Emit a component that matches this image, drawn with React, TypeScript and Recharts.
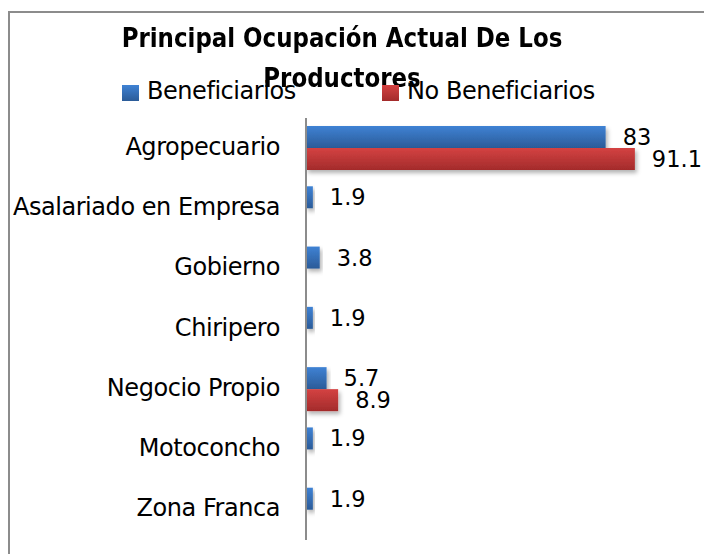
import { BarChart, Bar, XAxis, YAxis, LabelList } from 'recharts'

const categories = [
  'Agropecuario',
  'Asalariado en Empresa',
  'Gobierno',
  'Chiripero',
  'Negocio Propio',
  'Motoconcho',
  'Zona Franca',
]
const beneficiarios = [83, 1.9, 3.8, 1.9, 5.7, 1.9, 1.9]
const noBeneficiarios: (number | null)[] = [91.1, null, null, null, 8.9, null, null]

const data = categories.map((name, i) => ({
  name,
  ben: beneficiarios[i],
  noBen: noBeneficiarios[i],
}))

const FONT = '"DejaVu Sans", sans-serif'
const FRAME = '#8c8c8c'

const shadowBar = (fillId: string) => (props: any) => {
  const { x, y, width, height } = props
  if (!width || width <= 0) return null
  return <rect x={x} y={y} width={width} height={height} fill={`url(#${fillId})`} filter="url(#barShadow)" />
}

// category label, a bit taller and tighter than plain DejaVu
const CatTick = (props: any) => {
  const { x, y, payload } = props
  return (
    <text x={x} y={y} dy={6.5} textAnchor="end" fontSize={24} letterSpacing={-0.45} fill="#000" fontFamily={FONT}>
      {payload.value}
    </text>
  )
}

const fmt = (v: any) => (v == null ? '' : String(v))

export default function App() {
  return (
    <div style={{ position: 'fixed', left: 0, top: 0, width: 704, height: 554, overflow: 'hidden', background: '#fff', fontFamily: FONT }}>
      <div style={{ position: 'absolute', left: 8, top: 11, width: 720, height: 600, borderTop: `2px solid ${FRAME}`, borderLeft: `2px solid ${FRAME}` }} />

      <BarChart
        width={704}
        height={554}
        layout="vertical"
        data={data}
        margin={{ top: 118, right: 37, bottom: 14, left: 0 }}
        barSize={22}
        barGap={0}
        style={{ position: 'absolute', left: 0, top: 0 }}
      >
        <defs>
          <linearGradient id="gBen" x1="0" y1="0" x2="0" y2="1">
            <stop offset="0%" stopColor="#3f82d4" />
            <stop offset="100%" stopColor="#2b5b98" />
          </linearGradient>
          <linearGradient id="gNoBen" x1="0" y1="0" x2="0" y2="1">
            <stop offset="0%" stopColor="#d44242" />
            <stop offset="100%" stopColor="#a32b2b" />
          </linearGradient>
          <filter id="barShadow" x="-10%" y="-20%" width="130%" height="160%">
            <feDropShadow dx="2" dy="3" stdDeviation="2" floodColor="#000" floodOpacity="0.3" />
          </filter>
        </defs>
        <XAxis type="number" domain={[0, 100]} hide />
        <YAxis
          type="category"
          dataKey="name"
          width={306}
          axisLine={{ stroke: FRAME, strokeWidth: 2 }}
          tickLine={false}
          tickSize={0}
          tickMargin={26}
          tick={<CatTick />}
        />
        <Bar dataKey="ben" isAnimationActive={false} shape={shadowBar('gBen')}>
          <LabelList dataKey="ben" position="right" offset={17} formatter={fmt} style={{ fontSize: 22.5, fill: '#000', fontFamily: FONT }} />
        </Bar>
        <Bar dataKey="noBen" isAnimationActive={false} shape={shadowBar('gNoBen')}>
          <LabelList dataKey="noBen" position="right" offset={17} formatter={fmt} style={{ fontSize: 22.5, fill: '#000', fontFamily: FONT }} />
        </Bar>
      </BarChart>

      <div style={{ position: 'absolute', left: 0, width: 684, top: 17.5, textAlign: 'center', fontWeight: 'bold', fontSize: 26.5, lineHeight: '40px', color: '#000', transform: 'scaleX(0.865)', transformOrigin: '342px 0' }}>
        Principal Ocupación Actual De Los<br />Productores
      </div>

      <span style={{ position: 'absolute', left: 122, top: 85, width: 17, height: 16, background: 'linear-gradient(#3f82d4, #2b5b98)' }} />
      <span style={{ position: 'absolute', left: 147, top: 76.5, fontSize: 24, letterSpacing: -0.45, color: '#000', whiteSpace: 'nowrap' }}>Beneficiarios</span>
      <span style={{ position: 'absolute', left: 382, top: 85, width: 17, height: 16, background: 'linear-gradient(#d44242, #a32b2b)' }} />
      <span style={{ position: 'absolute', left: 407, top: 76.5, fontSize: 24, letterSpacing: -0.45, color: '#000', whiteSpace: 'nowrap' }}>No Beneficiarios</span>
    </div>
  )
}
